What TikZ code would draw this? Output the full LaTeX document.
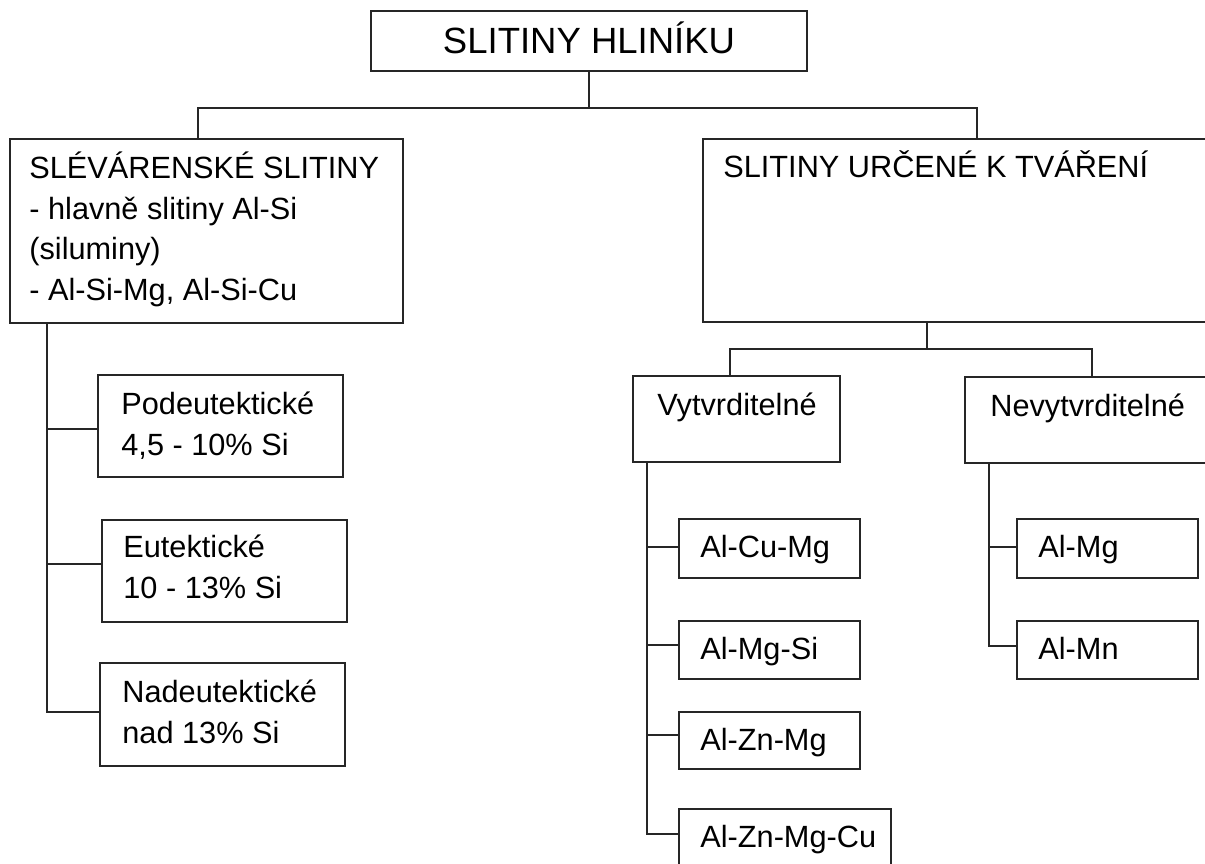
\documentclass[tikz,border=0pt]{standalone}
\usepackage{fontspec}
\setmainfont{Liberation Sans}
\begin{document}
\tikzset{
  box/.style={draw=black!85, line width=1pt, inner sep=0pt, outer sep=0pt, anchor=north west},
  lbl/.style={anchor=base west, inner sep=0pt, align=left, font=\fontsize{15.35pt}{20.25pt}\selectfont},
  ttl/.style={anchor=base, inner sep=0pt, font=\fontsize{18.25pt}{22pt}\selectfont},
  conn/.style={draw=black!85, line width=1pt},
}
\begin{tikzpicture}[x=0.5pt,y=-0.5pt]
\useasboundingbox (0,0) rectangle (1205,863);
\clip (0,0) rectangle (1205,863);
\fill[white] (0,0) rectangle (1205,863);

% boxes
\node[box, minimum width=218pt, minimum height=30pt] (T) at (371,11) {};
\node[box, minimum width=196.5pt, minimum height=92pt] (L) at (10,139) {};
\node[box, minimum width=278.5pt, minimum height=91.5pt] (R) at (703,139) {};
\node[box, minimum width=122.5pt, minimum height=51pt] (P) at (98,375) {};
\node[box, minimum width=122.5pt, minimum height=51pt] (E) at (102,520) {};
\node[box, minimum width=122.5pt, minimum height=51.5pt] (Nd) at (100,663) {};
\node[box, minimum width=103.5pt, minimum height=43pt] (V) at (633,376) {};
\node[box, minimum width=150pt, minimum height=43pt] (N) at (965,377) {};
\node[box, minimum width=90.5pt, minimum height=29.5pt] (A1) at (679,519) {};
\node[box, minimum width=90.5pt, minimum height=29pt] (A2) at (679,621) {};
\node[box, minimum width=90.5pt, minimum height=28.5pt] (A3) at (679,712) {};
\node[box, minimum width=106pt, minimum height=30.5pt] (A4) at (679,809) {};
\node[box, minimum width=90.5pt, minimum height=29.5pt] (B1) at (1017,519) {};
\node[box, minimum width=90.5pt, minimum height=29pt] (B2) at (1017,621) {};

% texts (multi-line nodes are placed by the baseline of their last line)
\node[ttl] (tT) at (589,53) {SLITINY HLINÍKU};
\node[lbl] (tL) at (29,300) {SLÉVÁRENSKÉ SLITINY\\- hlavně slitiny Al-Si\\(siluminy)\\- Al-Si-Mg, Al-Si-Cu};
\node[lbl] (tR) at (723,177) {SLITINY URČENÉ K TVÁŘENÍ};
\node[lbl] (tP) at (121,455) {Podeutektické\\4,5 - 10\% Si};
\node[lbl] (tE) at (123,598) {Eutektické\\10 - 13\% Si};
\node[lbl] (tNd) at (122,743) {Nadeutektické\\nad 13\% Si};
\node[lbl] (tV) at (657,415) {Vytvrditelné};
\node[lbl] (tN) at (990,416) {Nevytvrditelné};
\node[lbl] (tA1) at (700,557) {Al-Cu-Mg};
\node[lbl] (tA2) at (700,659) {Al-Mg-Si};
\node[lbl] (tA3) at (700,750) {Al-Zn-Mg};
\node[lbl] (tA4) at (700,847) {Al-Zn-Mg-Cu};
\node[lbl] (tB1) at (1038,557) {Al-Mg};
\node[lbl] (tB2) at (1038,659) {Al-Mn};

% connectors
\coordinate (tj) at (589,108);
\coordinate (rj) at (927,349);
\draw[conn] (T.south) -- (T.south |- tj);
\draw[conn] ([xshift=94pt]L.north west) |- (tj) -| ([xshift=137pt]R.north west);
\draw[conn] (R.south -| rj) -- (rj);
\draw[conn] ([xshift=48.5pt]V.north west) |- (rj) -| ([xshift=63.5pt]N.north west);

\draw[conn] ([xshift=18.5pt]L.south west) |- ([yshift=1.25pt]Nd.west);
\draw[conn] ([xshift=18.5pt]L.south west) |- ([yshift=-1.5pt]P.west);
\draw[conn] ([xshift=18.5pt]L.south west) |- ([yshift=3.5pt]E.west);

\draw[conn] ([xshift=7pt]V.south west) |- ([yshift=2.75pt]A4.west);
\draw[conn] ([xshift=7pt]V.south west) |- ([yshift=0.75pt]A1.west);
\draw[conn] ([xshift=7pt]V.south west) |- ([yshift=2.5pt]A2.west);
\draw[conn] ([xshift=7pt]V.south west) |- ([yshift=3pt]A3.west);

\draw[conn] ([xshift=12pt]N.south west) |- ([yshift=2pt]B2.west);
\draw[conn] ([xshift=12pt]N.south west) |- ([yshift=0.75pt]B1.west);
\end{tikzpicture}
\end{document}
